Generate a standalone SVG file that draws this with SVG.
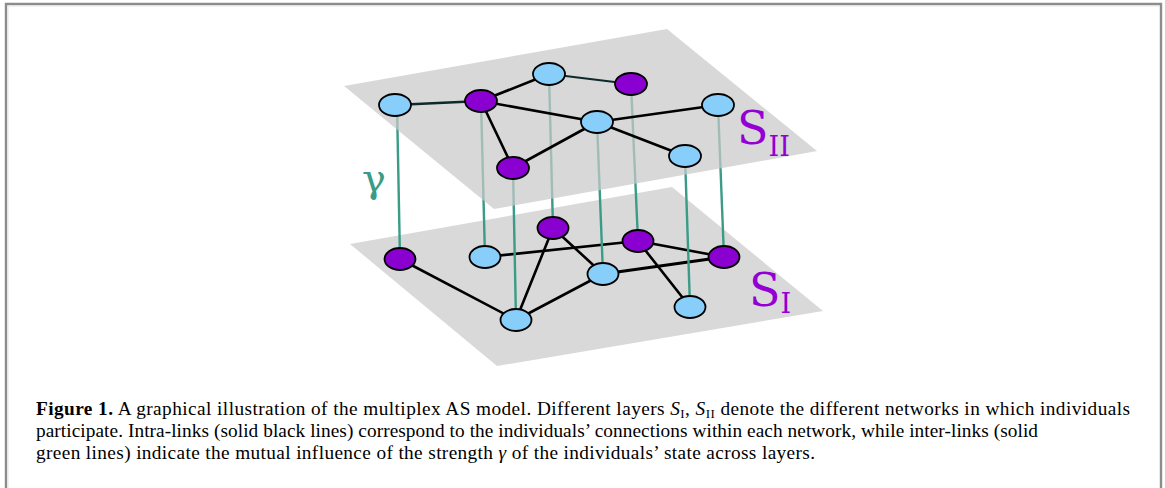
<svg xmlns="http://www.w3.org/2000/svg" width="1165" height="488" viewBox="0 0 1165 488">
<style>
.plane{fill:#d9d9d9}
.planeU{fill:#c9c9c9;fill-opacity:0.72}
.edge{stroke:#000;stroke-width:2.6;fill:none;stroke-linecap:round}
.dk{stroke:#0e2a28}
.inter{stroke:#3a9c86;stroke-width:2.4;fill:none}
.b{fill:#87cefa;stroke:#000;stroke-width:1.8}
.p{fill:#8a00d0;stroke:#000;stroke-width:1.8}
.lbl{font-family:"DejaVu Serif",serif;fill:#9400d3}
.cap{font-family:"Liberation Serif",serif;font-size:19.3px;fill:#000}
</style>
<rect x="0" y="0" width="1165" height="488" fill="#fff"/>
<path d="M6,492 V4 H1161 V492" fill="none" stroke="#8c8c8c" stroke-width="2.4"/>
<path d="M8,492 V6 H1159" fill="none" stroke="#e4e4e4" stroke-width="1"/>

<polygon id="planeI" class="plane" points="350,244 672,187 823,311 497,366"/>

<g id="connectors">
<g id="intraI">
<line class="edge" x1="400" y1="259" x2="516" y2="320"/>
<line class="edge" x1="516" y1="320" x2="553" y2="228"/>
<line class="edge" x1="516" y1="320" x2="603" y2="274"/>
<line class="edge" x1="553" y1="228" x2="603" y2="274"/>
<line class="edge" x1="485" y1="257" x2="638" y2="241"/>
<line class="edge" x1="638" y1="241" x2="724" y2="257"/>
<line class="edge" x1="603" y1="274" x2="724" y2="257" style="stroke-width:3.2"/>
<line class="edge" x1="638" y1="241" x2="690" y2="307"/>
</g>
<g id="inter">
<line class="inter" x1="397" y1="105" x2="400" y2="259"/>
<line class="inter" x1="481" y1="101" x2="485" y2="257"/>
<line class="inter" x1="549" y1="74" x2="553" y2="228"/>
<line class="inter" x1="513" y1="168" x2="516" y2="320"/>
<line class="inter" x1="597" y1="122" x2="603" y2="274"/>
<line class="inter" x1="631" y1="84" x2="638" y2="241"/>
<line class="inter" x1="685" y1="156" x2="690" y2="307"/>
<line class="inter" x1="718" y1="105" x2="724" y2="257"/>
</g>
</g>

<g id="nodesI">
<g id="n1_1"><ellipse class="p" cx="400" cy="259" rx="15.5" ry="11"/></g>
<g id="n1_2"><ellipse class="b" cx="485" cy="257" rx="15.5" ry="11"/></g>
<g id="n1_3"><ellipse class="p" cx="553" cy="228" rx="15.5" ry="11"/></g>
<g id="n1_4"><ellipse class="p" cx="638" cy="241" rx="15.5" ry="11"/></g>
<g id="n1_5"><ellipse class="b" cx="603" cy="274" rx="15.5" ry="11"/></g>
<g id="n1_6"><ellipse class="p" cx="724" cy="257" rx="15.5" ry="11"/></g>
<g id="n1_7"><ellipse class="b" cx="690" cy="307" rx="15.5" ry="11"/></g>
<g id="n1_8"><ellipse class="b" cx="516" cy="320" rx="15.5" ry="11"/></g>
</g>

<polygon id="planeII" class="planeU" points="344,86 667,29 817,151 494,209"/>

<g id="intraII">
<line class="edge dk" x1="395" y1="105" x2="481" y2="101"/>
<line class="edge" x1="481" y1="101" x2="549" y2="74"/>
<line class="edge dk" x1="549" y1="74" x2="631" y2="84" style="stroke-width:2.2"/>
<line class="edge" x1="481" y1="101" x2="597" y2="122"/>
<line class="edge" x1="481" y1="101" x2="513" y2="168"/>
<line class="edge" x1="513" y1="168" x2="597" y2="122"/>
<line class="edge" x1="597" y1="122" x2="718" y2="105"/>
<line class="edge" x1="597" y1="122" x2="685" y2="156"/>
</g>

<g id="nodesII">
<g id="n2_1"><ellipse class="b" cx="395" cy="105" rx="16" ry="11"/></g>
<g id="n2_2"><ellipse class="p" cx="481" cy="101" rx="16" ry="11"/></g>
<g id="n2_3"><ellipse class="b" cx="549" cy="74" rx="16" ry="11"/></g>
<g id="n2_4"><ellipse class="p" cx="631" cy="84" rx="16" ry="11"/></g>
<g id="n2_5"><ellipse class="b" cx="597" cy="122" rx="16" ry="11"/></g>
<g id="n2_6"><ellipse class="b" cx="718" cy="105" rx="16" ry="11"/></g>
<g id="n2_7"><ellipse class="p" cx="513" cy="168" rx="16" ry="11"/></g>
<g id="n2_8"><ellipse class="b" cx="685" cy="156" rx="16" ry="11"/></g>
</g>

<g id="labels">
<text class="lbl" x="737" y="144" font-size="46">S<tspan font-size="27" dy="12">II</tspan></text>
<text class="lbl" x="749" y="306" font-size="46">S<tspan font-size="27" dy="7">I</tspan></text>
<text x="362" y="192" font-family="DejaVu Serif,serif" font-size="40" fill="#3a9c86">γ</text>
</g>

<g id="caption" class="cap">
<text x="36" y="415" textLength="1094" lengthAdjust="spacing"><tspan font-weight="bold">Figure 1.</tspan> A graphical illustration of the multiplex AS model. Different layers <tspan font-style="italic">S</tspan><tspan font-size="13" dy="3">I</tspan><tspan dy="-3">,  </tspan><tspan font-style="italic">S</tspan><tspan font-size="13" dy="3">II</tspan><tspan dy="-3"> denote the different networks in which individuals</tspan></text>
<text x="36" y="437" textLength="1002" lengthAdjust="spacing">participate. Intra-links (solid black lines) correspond to the individuals’ connections within each network, while inter-links (solid</text>
<text x="36" y="459" textLength="779" lengthAdjust="spacing">green lines) indicate the mutual influence of the strength <tspan font-style="italic">γ</tspan> of the individuals’ state across layers.</text>
</g>
</svg>
